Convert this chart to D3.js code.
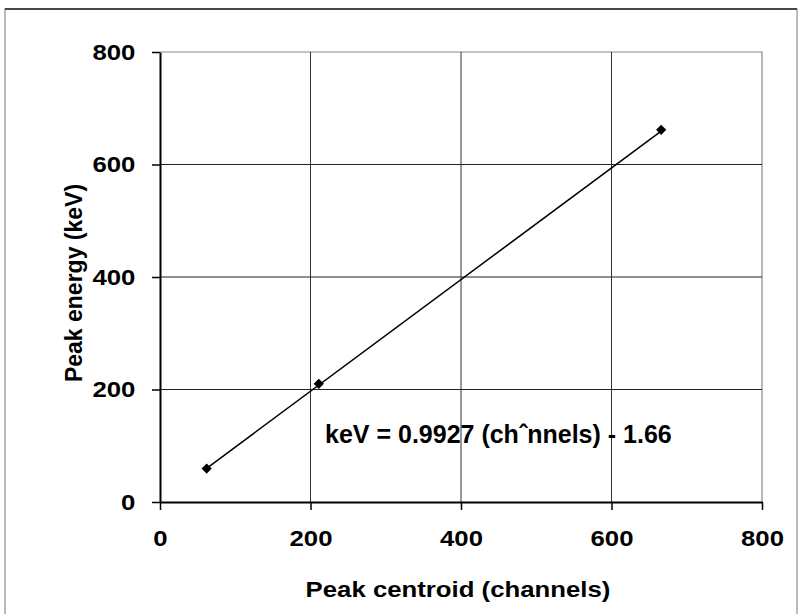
<!DOCTYPE html>
<html>
<head>
<meta charset="utf-8">
<script src="https://cdn.jsdelivr.net/npm/d3@7"></script>
<style>
  body { margin: 0; background: #fff; }
  svg text { font-family: "Liberation Sans", Arial, sans-serif; font-weight: bold; fill: #000; }
</style>
</head>
<body>
<svg id="chart" width="800" height="614"></svg>
<script>
// calibration points
const channels = [62, 211, 666];
const energies = [59.5, 210, 661.7];
const fitSlope = 0.9927, fitIntercept = -1.66;
const xTicks = [0, 200, 400, 600, 800];
const yTicks = [0, 200, 400, 600, 800];
const eqLabel = "keV = 0.9927 (ch\u02c6nnels) - 1.66";

const svg = d3.select("#chart");
const pLeft = 160, pRight = 762, pTop = 52, pBottom = 502;

const x = d3.scaleLinear().domain([0, 800]).range([pLeft, pRight]);
const y = d3.scaleLinear().domain([0, 800]).range([pBottom, pTop]);

// outer frame
svg.append("rect")
    .attr("x", 5).attr("y", 9).attr("width", 792).attr("height", 640)
    .attr("fill", "none").attr("stroke", "#777").attr("stroke-width", 1);
svg.append("line")
    .attr("x1", 5).attr("x2", 797).attr("y1", 9).attr("y2", 9)
    .attr("stroke", "#222").attr("stroke-width", 1.5);

// plot border top/right
svg.append("path")
    .attr("d", `M${pLeft},${pTop}H${pRight}V${pBottom}`)
    .attr("fill", "none").attr("stroke", "#888").attr("stroke-width", 1.2);

// gridlines
const g = svg.append("g");
g.selectAll(".gx").data(xTicks.slice(1, -1)).enter().append("line")
    .attr("x1", d => x(d)).attr("x2", d => x(d))
    .attr("y1", pTop).attr("y2", pBottom)
    .attr("stroke", "#333").attr("stroke-width", 1);
g.selectAll(".gy").data(yTicks.slice(1, -1)).enter().append("line")
    .attr("y1", d => y(d)).attr("y2", d => y(d))
    .attr("x1", pLeft).attr("x2", pRight)
    .attr("stroke", "#222").attr("stroke-width", 1.2);

// axes
const xAxis = svg.append("g")
    .attr("transform", `translate(0,${pBottom})`)
    .call(d3.axisBottom(x).tickValues(xTicks).tickSize(8).tickSizeOuter(0).tickPadding(20));
const yAxis = svg.append("g")
    .attr("transform", `translate(${pLeft},0)`)
    .call(d3.axisLeft(y).tickValues(yTicks).tickSize(8).tickSizeOuter(0).tickPadding(14));

[xAxis, yAxis].forEach(a => {
    a.select(".domain").attr("stroke", "#000").attr("stroke-width", 2);
    a.selectAll(".tick line").attr("stroke", "#000").attr("stroke-width", 1.5);
    a.selectAll(".tick text")
        .style("font-size", "23px")
        .style("font-family", "'Liberation Sans', Arial, sans-serif")
        .style("font-weight", "bold")
        .attr("fill", "#000")
        .attr("transform", "scale(1.12,1)");
});

// fit line
const xExt = d3.extent(channels);
svg.append("line")
    .attr("x1", x(xExt[0])).attr("y1", y(fitSlope * xExt[0] + fitIntercept))
    .attr("x2", x(xExt[1])).attr("y2", y(fitSlope * xExt[1] + fitIntercept))
    .attr("stroke", "#000").attr("stroke-width", 1.5);

// markers
svg.selectAll(".pt").data(channels).enter().append("path")
    .attr("d", d3.symbol().type(d3.symbolSquare).size(52))
    .attr("transform", (d, i) => `translate(${x(d)},${y(energies[i])}) rotate(45)`)
    .attr("fill", "#000");

// equation
svg.append("text")
    .attr("x", 325).attr("y", 443)
    .style("font-size", "25px")
    .text(eqLabel);

// axis titles
svg.append("text")
    .attr("transform", `translate(458,597) scale(1.12,1)`)
    .attr("text-anchor", "middle")
    .style("font-size", "23px")
    .text("Peak centroid (channels)");
svg.append("text")
    .attr("transform", "translate(82,283) rotate(-90)")
    .attr("text-anchor", "middle")
    .style("font-size", "23px")
    .text("Peak energy (keV)");
</script>
</body>
</html>
